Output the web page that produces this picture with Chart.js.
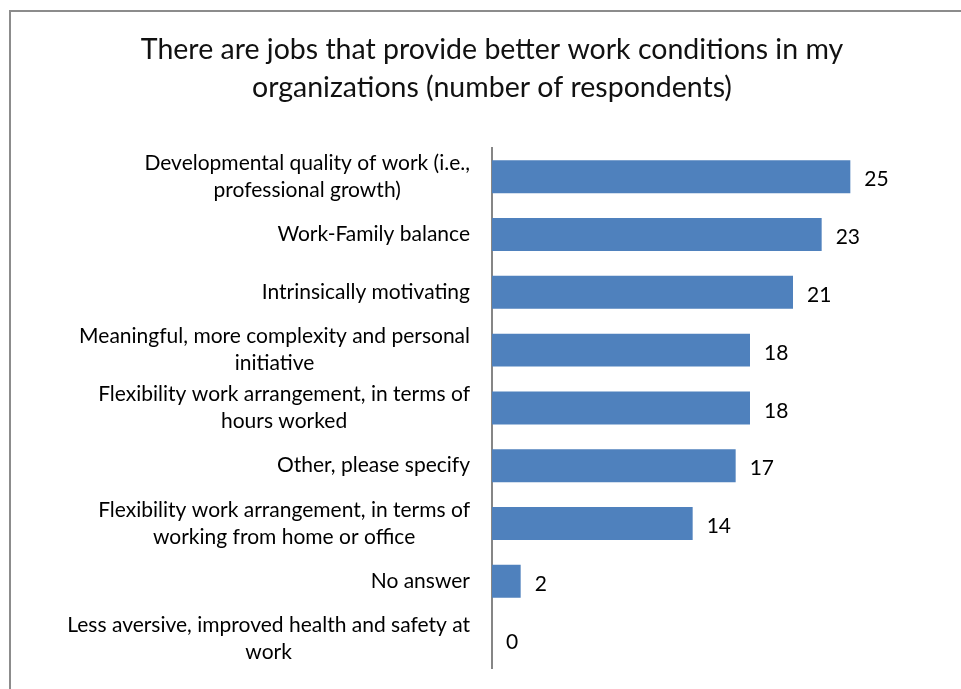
<!DOCTYPE html>
<html>
<head>
<meta charset="utf-8">
<script src="https://cdn.jsdelivr.net/npm/chart.js@4.4.1/dist/chart.umd.min.js"></script>
<style>
  html, body { margin: 0; padding: 0; background: #fff; overflow: hidden; }
  #wrap { position: relative; width: 961px; height: 689px; overflow: hidden; }
  #frame { position: absolute; left: 9px; top: 10px; width: 1000px; height: 800px; border: 2px solid #8c8c8c; box-sizing: border-box; }
  #c { position: absolute; left: 0; top: 0; }
</style>
</head>
<body>
<div id="wrap">
  <div id="frame"></div>
  <canvas id="c" width="984" height="689"></canvas>
</div>
<script>
const titleLines = [
  "There are jobs that provide better work conditions in my",
  "organizations (number of respondents)"
];
const categories = [
  ["Developmental quality of work (i.e.,", "professional growth)"],
  ["Work-Family balance"],
  ["Intrinsically motivating"],
  ["Meaningful, more complexity and personal", "initiative"],
  ["Flexibility work arrangement, in terms of", "hours worked"],
  ["Other, please specify"],
  ["Flexibility work arrangement, in terms of", "working from home or office"],
  ["No answer"],
  ["Less aversive, improved health and safety at", "work"]
];
const respondents = [25, 23, 21, 18, 18, 17, 14, 2, 0];
const axisMax = 30;

const FONT = "Lato, 'Open Sans', sans-serif";

// category labels: lines centred on each other, block right-aligned to the axis
const categoryLabels = {
  id: "categoryLabels",
  afterDraw(chart) {
    const ctx = chart.ctx;
    const y = chart.scales.y;
    const right = chart.chartArea.left - 22;
    const lh = 27;
    ctx.save();
    ctx.font = "21px " + FONT;
    ctx.fillStyle = "#000";
    ctx.textBaseline = "middle";
    ctx.textAlign = "center";
    categories.forEach((lines, i) => {
      const cy = y.getPixelForTick(i);
      const w = Math.max(...lines.map(l => ctx.measureText(l).width));
      const cx = right - w / 2;
      const y0 = cy - (lines.length - 1) * lh / 2;
      lines.forEach((l, j) => ctx.fillText(l, cx, y0 + j * lh));
    });
    ctx.restore();
  }
};

const valueLabels = {
  id: "valueLabels",
  afterDatasetsDraw(chart) {
    const ctx = chart.ctx;
    const meta = chart.getDatasetMeta(0);
    ctx.save();
    ctx.font = "21px " + FONT;
    ctx.fillStyle = "#000";
    ctx.textBaseline = "middle";
    ctx.textAlign = "left";
    meta.data.forEach((bar, i) => {
      ctx.fillText(String(respondents[i]), bar.x + 14, bar.y + 3);
    });
    ctx.restore();
  }
};

new Chart(document.getElementById("c").getContext("2d"), {
  type: "bar",
  data: {
    labels: categories,
    datasets: [{
      label: "Respondents",
      data: respondents,
      backgroundColor: "#4F81BD",
      borderWidth: 0,
      barPercentage: 0.57,
      categoryPercentage: 1.0
    }]
  },
  options: {
    indexAxis: "y",
    responsive: false,
    animation: false,
    layout: { padding: { left: 62, right: 62, top: 0, bottom: 21 } },
    plugins: {
      legend: { display: false },
      tooltip: { enabled: false },
      title: {
        display: true,
        text: titleLines,
        color: "#111",
        font: { family: FONT, size: 28.5, weight: "normal", lineHeight: 1.33 },
        padding: { top: 31, bottom: 41 }
      }
    },
    scales: {
      x: { display: false, min: 0, max: axisMax },
      y: {
        grid: { display: false },
        border: { display: true, color: "#868686", width: 2 },
        ticks: { display: false },
        afterFit(scale) { scale.width = 430; }
      }
    }
  },
  plugins: [categoryLabels, valueLabels]
});
</script>
</body>
</html>
